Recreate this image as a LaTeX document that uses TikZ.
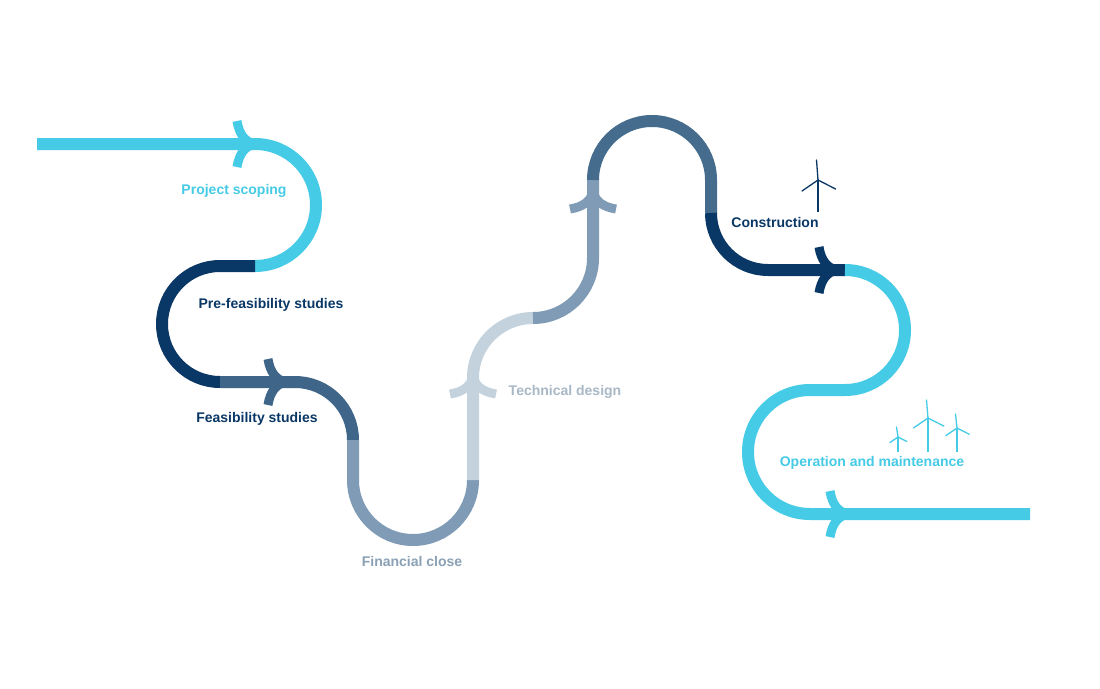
\documentclass[tikz,border=0pt]{standalone}
\usepackage{fontspec}
\setmainfont{Liberation Sans}
\definecolor{lb}{HTML}{45CBE6}
\definecolor{nv}{HTML}{0A3866}
\definecolor{md}{HTML}{3F6688}
\definecolor{gb}{HTML}{7F9BB5}
\definecolor{lg}{HTML}{C3D2DD}
\definecolor{st}{HTML}{456C8D}
\definecolor{tfc}{HTML}{8AA0B5}
\definecolor{ttd}{HTML}{A9B8C6}
\def\turbine#1#2#3#4#5{%
  \draw[line width=1.6pt,#5] (#1,#3) -- (#1,#2);
  \draw[blade,#5] (#1,#2) -- ++(-1.5,-#4);
  \draw[blade,#5] (#1,#2) -- ++(0.88*#4,0.45*#4);
  \draw[blade,#5] (#1,#2) -- ++(-0.8*#4,0.55*#4);}
\begin{document}
\begin{tikzpicture}[x=1pt,y=-1pt,
  seg/.style={line width=12pt},
  lbl/.style={font=\fontsize{14}{16}\selectfont\bfseries},
  chev/.style={line width=9pt},
  blade/.style={line width=1.3pt,line cap=round}]
\useasboundingbox (0,0) rectangle (1100,688);
\fill[white] (0,0) rectangle (1100,688);
\coordinate (s0) at (37,144);
\coordinate (a1) at (255,144);
\coordinate (a2) at (255,266);
\coordinate (b1) at (220,266);
\coordinate (b2) at (220,382);
\coordinate (c1) at (295,382);
\coordinate (c2) at (353,440);
\coordinate (d1) at (353,480);
\coordinate (d2) at (473,480);
\coordinate (e1) at (473,378);
\coordinate (e2) at (533,318);
\coordinate (f2) at (593,180);
\coordinate (g2) at (711,213);
\coordinate (h2) at (845,270);
\coordinate (i2) at (810,390);
\coordinate (i4) at (1030,514);
\draw[seg,lb] (s0) -- (a1) arc[start angle=-90,end angle=90,radius=61];
\draw[seg,nv] (a2) -- (b1) arc[start angle=-90,end angle=-270,radius=58];
\draw[seg,md] (b2) -- (c1) arc[start angle=-90,end angle=0,radius=58];
\draw[seg,gb] (c2) -- (d1) arc[start angle=180,end angle=0,radius=60];
\draw[seg,lg] (d2) -- (e1) arc[start angle=180,end angle=270,radius=60];
\draw[seg,gb] (e2) arc[start angle=90,end angle=0,radius=60] -- (f2);
\draw[seg,st] (f2) arc[start angle=180,end angle=360,radius=59] -- (g2);
\draw[seg,nv] (g2) arc[start angle=180,end angle=90,radius=57] -- (h2);
\draw[seg,lb] (h2) arc[start angle=-90,end angle=90,radius=60] -- (i2)
  arc[start angle=-90,end angle=-270,radius=62] -- (i4);
\foreach \x/\y/\c in {241/144/lb, 272/382/md, 823/270/nv, 834/514/lb}{
  \draw[chev,\c] (\x-4,\y-23) .. controls (\x-2,\y-10) and (\x+4,\y-2) .. (\x+14,\y);
  \draw[chev,\c] (\x-4,\y+23) .. controls (\x-2,\y+10) and (\x+4,\y+2) .. (\x+14,\y);
}
\foreach \x/\y/\c in {473/390/lg, 593/205/gb}{
  \draw[chev,\c] (\x-23,\y+4) .. controls (\x-10,\y+2) and (\x-2,\y-4) .. (\x,\y-14);
  \draw[chev,\c] (\x+23,\y+4) .. controls (\x+10,\y+2) and (\x+2,\y-4) .. (\x,\y-14);
}
\node[lbl,text=lb] (l1) at (234,191) {Project scoping};
\node[lbl,text=nv] (l2) at (271,305) {Pre-feasibility studies};
\node[lbl,text=nv] (l3) at (257,419) {Feasibility studies};
\node[lbl,text=tfc] (l4) at (412,561) {Financial close};
\node[lbl,text=ttd] (l5) at (565,392) {Technical design};
\node[lbl,text=nv] (l6) at (775,222) {Construction};
\node[lbl,text=lb] (l7) at (872,463) {Operation and maintenance};
\turbine{818}{180}{212}{20}{nv}
\turbine{928}{418}{452}{18}{lb}
\turbine{957}{428}{452}{14}{lb}
\turbine{898}{437}{452}{10}{lb}
\end{tikzpicture}
\end{document}
